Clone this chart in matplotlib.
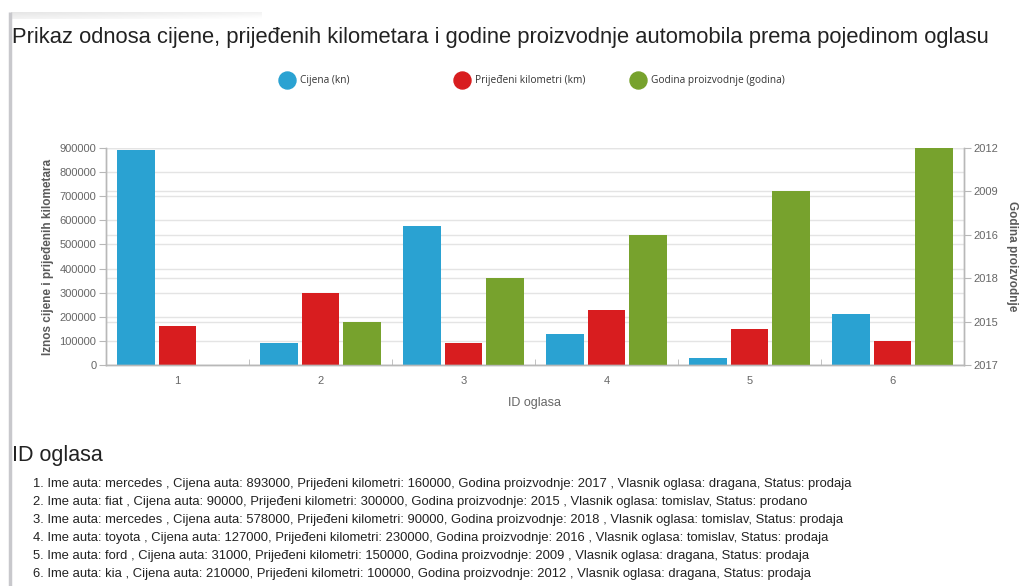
import matplotlib
matplotlib.use("Agg")
import matplotlib.pyplot as plt
import numpy as np

# ---- data ----
ad_ids = ["1", "2", "3", "4", "5", "6"]
car_names = ["mercedes", "fiat", "mercedes", "toyota", "ford", "kia"]
prices = [893000, 90000, 578000, 127000, 31000, 210000]
kilometers = [160000, 300000, 90000, 230000, 150000, 100000]
years = [2017, 2015, 2018, 2016, 2009, 2012]
owners = ["dragana", "tomislav", "tomislav", "tomislav", "dragana", "dragana"]
statuses = ["prodaja", "prodano", "prodaja", "prodaja", "prodaja", "prodaja"]
left_ticks = [0, 100000, 200000, 300000, 400000, 500000, 600000, 700000, 800000, 900000]

series_labels = ["Cijena (kn)", "Prijeđeni kilometri (km)", "Godina proizvodnje (godina)"]
title = "Prikaz odnosa cijene, prijeđenih kilometara i godine proizvodnje automobila prema pojedinom oglasu"

BLUE = "#2aa2d2"
RED = "#d81d1f"
GREEN = "#77a22d"
GRID = "#e4e4e4"
AX = "#b8b8b8"
TXT = "#666666"

W, H = 1019, 586
plt.rcParams['font.family'] = ['Liberation Sans', 'DejaVu Sans']
fig = plt.figure(figsize=(W / 100, H / 100), dpi=100)

# overlay axes in pixel coordinates for page-level elements
ov = fig.add_axes([0, 0, 1, 1], zorder=10)
ov.set_xlim(0, W)
ov.set_ylim(H, 0)
ov.axis("off")
ov.patch.set_visible(False)

# page decorations: left border and top shadow
ov.plot([10, 10], [12, 586], color="#c8c8cc", lw=2.5, solid_capstyle="butt")
shade = np.outer(np.linspace(0.0, 1.0, 8), np.ones(256)) * 0.5 + np.outer(np.ones(8), np.linspace(0.0, 1.0, 256)) * 0.5
ov.imshow(0.9 + 0.1 * shade, cmap="gray", vmin=0, vmax=1, aspect="auto",
          extent=[11, 262, 19, 12], zorder=1)

# title
ov.text(12, 38, title, fontsize=15.8, color="#222222", va="center", ha="left")

# legend
leg_x = [287, 462, 638]
leg_colors = [BLUE, RED, GREEN]
for xx, c, lab in zip(leg_x, leg_colors, series_labels):
    ov.scatter([xx], [80], s=150, color=c, zorder=3)
    ov.text(xx + 13, 80, lab, fontsize=7.3, color="#333333", va="center", ha="left",
            family=["Open Sans", "DejaVu Sans"])

# main axes
ax = fig.add_axes([106 / W, 1 - 365 / H, (964 - 106) / W, (365 - 148) / H])
ax2 = ax.twinx()

x = np.arange(len(ad_ids))
bw = 0.265
off = 0.29

ax.set_ylim(0, 900000)
ax.set_xlim(-0.5, len(ad_ids) - 0.5)
ax.set_yticks(left_ticks)
ax.set_yticklabels([str(t) for t in left_ticks])

# gridlines: left ticks and right categorical ticks
for t in left_ticks:
    ax.axhline(t, color=GRID, lw=1, zorder=0.5)
year_cats = []
for yv in years:
    if yv not in year_cats:
        year_cats.append(yv)
for i in range(len(year_cats)):
    ax.axhline(i / (len(year_cats) - 1) * 900000, color=GRID, lw=1, zorder=0.5)

ax.bar(x - off, prices, width=bw, color=BLUE, zorder=2)
ax.bar(x, kilometers, width=bw, color=RED, zorder=2)

year_idx = [year_cats.index(yv) for yv in years]
ax2.bar(x + off, year_idx, width=bw, color=GREEN, zorder=2)
ax2.set_ylim(0, len(year_cats) - 1)
ax2.set_yticks(range(len(year_cats)))
ax2.set_yticklabels([str(v) for v in year_cats])

# x axis: labels at centers, ticks at boundaries
ax.set_xticks(x)
ax.set_xticklabels(ad_ids)
ax.set_xticks(np.arange(-0.5, len(ad_ids) + 0.5, 1), minor=True)
ax.tick_params(axis="x", which="major", length=0, pad=8, labelsize=8, labelcolor=TXT)
ax.tick_params(axis="x", which="minor", length=4, color=AX, direction="in")
ax.tick_params(axis="y", length=5, color=AX, labelsize=8, labelcolor=TXT, pad=2)
ax2.tick_params(axis="y", length=5, color=AX, labelsize=8, labelcolor=TXT, pad=2)

for a in (ax, ax2):
    a.spines["top"].set_visible(False)
    for s in ("left", "right", "bottom"):
        a.spines[s].set_color(AX)
        a.spines[s].set_linewidth(1)
ax.tick_params(axis="both", which="both", top=False)

ax.set_xlabel("ID oglasa", fontsize=9, color=TXT, labelpad=8)
ax.set_ylabel("Iznos cijene i prijeđenih kilometara", fontsize=8.5, color="#5a5a5a", fontweight="bold", labelpad=4)
ax2.set_ylabel("Godina proizvodnje", fontsize=8.5, color="#5a5a5a", fontweight="bold", rotation=-90, labelpad=14)

# list section
ov.text(12, 456, "ID oglasa", fontsize=15.5, color="#222222", va="center", ha="left")
line_y = [484, 502, 520, 538, 556, 574]
for i in range(len(ad_ids)):
    line = (f"{ad_ids[i]}. Ime auta: {car_names[i]} , Cijena auta: {prices[i]}, "
            f"Prijeđeni kilometri: {kilometers[i]}, Godina proizvodnje: {years[i]} , "
            f"Vlasnik oglasa: {owners[i]}, Status: {statuses[i]}")
    ov.text(33, line_y[i], line, fontsize=9.35, color="#222222", va="center", ha="left")

fig.savefig("out.png", dpi=100)
